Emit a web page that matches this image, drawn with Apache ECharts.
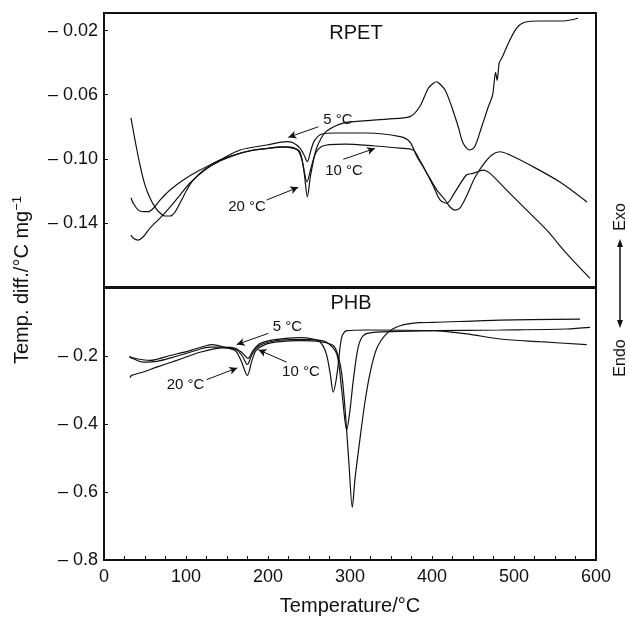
<!DOCTYPE html>
<html>
<head>
<meta charset="utf-8">
<script src="https://cdn.jsdelivr.net/npm/echarts@6/dist/echarts.min.js"></script>
<style>
  html, body { margin: 0; padding: 0; background: #fff; }
  #chart { width: 629px; height: 617px; }
</style>
</head>
<body>
<div id="chart"></div>
<script>
// RPET curves, [temperature, temp. diff.]
const rpet5 = [
  [32.9, -0.1245], [35.8, -0.1278], [41.8, -0.132], [48, -0.133], [54, -0.133], [60, -0.131],
  [68.3, -0.1258], [80.5, -0.1195], [96.7, -0.1132], [117, -0.107], [141.5, -0.1008], [166, -0.0945],
  [198.4, -0.0914], [223, -0.0893], [230.5, -0.09], [239, -0.0933], [244, -0.0976], [248, -0.1018],
  [252.4, -0.0945], [257, -0.0883], [266, -0.0845], [282, -0.0839], [320.7, -0.0839], [361, -0.0862],
  [373, -0.0895], [381.7, -0.0987], [391.5, -0.107], [401, -0.1164], [410, -0.1258], [418, -0.1277],
  [427, -0.1216], [442, -0.1101], [450, -0.1091], [462.6, -0.107], [470.7, -0.1091], [491, -0.1195],
  [515.5, -0.132], [540, -0.1445], [564, -0.159], [592.7, -0.1746]
]
const rpet10 = [
  [32.9, -0.1476], [35.4, -0.1494], [41.5, -0.1507], [47.6, -0.1488], [56.1, -0.1432], [68.3, -0.137],
  [80.5, -0.1301], [92.7, -0.1226], [104.9, -0.1151], [123, -0.107], [141.5, -0.1014], [160, -0.0975],
  [178, -0.0951], [200, -0.0935], [214.6, -0.0926], [230.5, -0.0933], [237, -0.095], [241.5, -0.1008],
  [247.6, -0.1143], [252.4, -0.1058], [258, -0.0965], [265, -0.0925], [275, -0.0912], [294, -0.0908],
  [330.5, -0.092], [361, -0.0933], [377, -0.0945], [385, -0.1008], [395, -0.1101], [406, -0.1195],
  [416, -0.1257], [422, -0.1301], [428, -0.132], [434, -0.1308], [442.7, -0.1226], [452, -0.112],
  [462, -0.1039], [473, -0.0976], [483, -0.0956], [495, -0.0976], [519.5, -0.1039], [556, -0.1145],
  [589, -0.127]
]
const rpet20 = [
  [32.9, -0.0745], [37.8, -0.0883], [43.9, -0.1039], [50, -0.1164], [56.1, -0.1245], [62.2, -0.1301],
  [68.3, -0.1338], [74.4, -0.1357], [80.5, -0.1357], [86.6, -0.1332], [92.7, -0.1276], [101, -0.1195],
  [109, -0.1132], [125, -0.1055], [141.5, -0.1008], [160, -0.0975], [182, -0.0945], [205, -0.0932],
  [223, -0.0925], [231, -0.093], [239, -0.0958], [244, -0.1083], [248, -0.1237], [252, -0.1101],
  [258.5, -0.0945], [265, -0.087], [272, -0.0825], [291.5, -0.0777], [320, -0.0762], [345, -0.0752],
  [373, -0.0737], [385, -0.0675], [395.5, -0.056], [401.6, -0.0529], [405.7, -0.0519], [409, -0.053],
  [416, -0.0571], [424, -0.0675], [432, -0.08], [438, -0.0903], [446, -0.0945], [452, -0.0925],
  [460.6, -0.08], [468.7, -0.0675], [474, -0.06], [477.5, -0.046], [479.5, -0.051], [482, -0.04],
  [485, -0.0373], [493, -0.028], [503, -0.0186], [513, -0.0148], [531.7, -0.014], [560, -0.014],
  [578, -0.0123]
]

// PHB curves
const phb5 = [
  [30.9, -0.2035], [35.7, -0.208], [47.9, -0.218], [64.3, -0.216], [84.5, -0.2035], [104.9, -0.189],
  [129.3, -0.174], [145.5, -0.174], [161, -0.178], [168.3, -0.19], [175.6, -0.207], [181.7, -0.184],
  [190.2, -0.1635], [208.5, -0.152], [239, -0.146], [254.9, -0.15], [263.4, -0.158], [270.7, -0.19],
  [275.6, -0.248], [279.6, -0.306], [283, -0.272], [285.7, -0.223], [289.9, -0.145], [296, -0.1255],
  [320.4, -0.1235], [401.6, -0.1255], [442.3, -0.135], [483, -0.15], [531.7, -0.158], [588.7, -0.1664]
]
const phb10 = [
  [30.9, -0.2015], [39.9, -0.208], [56.1, -0.213], [80.5, -0.1985], [104.9, -0.184], [125.2, -0.169],
  [131.7, -0.1664], [149.6, -0.176], [161, -0.181], [168.3, -0.1985], [174.8, -0.225], [180.5, -0.1956],
  [187.8, -0.172], [202.4, -0.158], [226.8, -0.152], [251.2, -0.152], [271.6, -0.16], [283.8, -0.1936],
  [289.9, -0.3], [296, -0.4175], [300, -0.359], [304, -0.2715], [310, -0.174], [316.2, -0.14],
  [328.4, -0.1305], [401.6, -0.1255], [483, -0.1235], [564.3, -0.1206], [592.7, -0.116]
]
const phb20 = [
  [31.7, -0.2636], [33.8, -0.257], [47.9, -0.247], [64.3, -0.2327], [88.7, -0.213], [117, -0.189],
  [145.5, -0.176], [159.8, -0.184], [167, -0.213], [174.8, -0.257], [180.5, -0.213], [185.4, -0.184],
  [196.3, -0.1664], [214.6, -0.158], [239, -0.155], [263.4, -0.158], [279.6, -0.169], [285.4, -0.1985],
  [290.2, -0.257], [295, -0.388], [298.8, -0.52], [302.8, -0.645], [306, -0.5635], [312, -0.447],
  [318, -0.339], [324.4, -0.251], [332.6, -0.178], [344.8, -0.134], [361, -0.111], [385, -0.102],
  [401.6, -0.1013], [483, -0.0943], [580.5, -0.0914]
]

// tick labels
const xTicks = [0, 100, 200, 300, 400, 500, 600]
const rpetTicks = [-0.02, -0.06, -0.10, -0.14]
const phbTicks = [-0.2, -0.4, -0.6, -0.8]

// annotations: [label, textPos, arrowFrom, arrowTo]
const rpetNotes = [
  ['5 \u00b0C', [285.4, -0.0758], [261.3, -0.080], [224.8, -0.0866]],
  ['10 \u00b0C', [292.7, -0.1076], [291.8, -0.1003], [330.5, -0.0935]],
  ['20 \u00b0C', [174.4, -0.1298], [198.4, -0.1257], [236.9, -0.1178]],
  ['RPET', [307.3, -0.0215]]
]
const phbNotes = [
  ['5 \u00b0C', [223.8, -0.1139], [200.4, -0.1334], [161.8, -0.1664]],
  ['10 \u00b0C', [240.2, -0.2467], [222.8, -0.2181], [188.2, -0.1819]],
  ['20 \u00b0C', [99.4, -0.2861], [125.2, -0.2695], [162.6, -0.235]],
  ['PHB', [301.2, -0.0453]]
]

const font = 'Liberation Sans, Arial, Helvetica, sans-serif'
const chart = echarts.init(document.getElementById('chart'), null, { renderer: 'canvas' })

const pick = (list, digits) => v => {
  const t = list.find(t => Math.abs(t - v) < 1e-6)
  return t === undefined ? '' : '\u2013 ' + Math.abs(t).toFixed(digits)
}

function curve(data, xi) {
  return {
    type: 'line',
    xAxisIndex: xi,
    yAxisIndex: xi,
    data: data,
    showSymbol: false,
    smooth: 0.3,
    animation: false,
    silent: true,
    lineStyle: { color: '#111', width: 1.2 },
  }
}

function notes(list, xi) {
  return {
    type: 'line',
    xAxisIndex: xi,
    yAxisIndex: xi,
    data: [],
    animation: false,
    silent: true,
    markLine: {
      silent: true,
      animation: false,
      symbol: ['none', 'arrow'],
      symbolSize: [6, 8],
      label: { show: false },
      lineStyle: { color: '#111', width: 1, type: 'solid' },
      data: list.filter(n => n[2]).map(n => [{ coord: n[2] }, { coord: n[3] }]),
    },
    markPoint: {
      silent: true,
      animation: false,
      symbol: 'rect',
      symbolSize: 1,
      itemStyle: { color: 'rgba(0,0,0,0)' },
      label: {
        show: true,
        position: 'inside',
        formatter: '{b}',
        color: '#111',
        fontFamily: font,
      },
      data: list.map(n => ({
        name: n[0],
        coord: n[1],
        label: { fontSize: n[2] ? 15 : 20 },
      })),
    },
  }
}

const axisText = { color: '#111', fontFamily: font, fontSize: 18 }
const tick = { show: true, inside: true, length: 4, lineStyle: { color: '#111', width: 1 } }
const noLine = { show: false, onZero: false }

chart.setOption({
  animation: false,
  backgroundColor: '#fff',
  grid: [
    { left: 104, top: 13, width: 492, height: 274, show: true, borderColor: '#111', borderWidth: 2 },
    { left: 104, top: 288, width: 492, height: 273, show: true, borderColor: '#111', borderWidth: 2 },
  ],
  xAxis: [
    {
      type: 'value', gridIndex: 0, min: 0, max: 600,
      axisLine: noLine, axisTick: { show: false }, minorTick: { show: false },
      axisLabel: { show: false }, splitLine: { show: false },
    },
    {
      type: 'value', gridIndex: 1, min: 0, max: 600, interval: 25,
      axisLine: noLine,
      axisTick: tick,
      minorTick: { show: false },
      splitLine: { show: false },
      axisLabel: Object.assign({ margin: 8, formatter: v => xTicks.includes(v) ? String(v) : '' }, axisText),
      name: 'Temperature/\u00b0C',
      nameLocation: 'middle',
      nameGap: 36,
      nameTextStyle: { color: '#111', fontFamily: font, fontSize: 20 },
    },
  ],
  yAxis: [
    {
      type: 'value', gridIndex: 0, min: -0.18, max: -0.009, interval: 0.04,
      axisLine: noLine,
      axisTick: tick,
      splitLine: { show: false },
      axisLabel: Object.assign({ margin: 6, formatter: pick(rpetTicks, 2) }, axisText),
    },
    {
      type: 'value', gridIndex: 1, min: -0.8, max: 0, interval: 0.2,
      axisLine: noLine,
      axisTick: tick,
      splitLine: { show: false },
      axisLabel: Object.assign({ margin: 6, formatter: pick(phbTicks, 1) }, axisText),
    },
  ],
  graphic: [
    {
      type: 'text',
      rotation: Math.PI / 2,
      x: 22, y: 280,
      style: {
        text: 'Temp. diff./\u00b0C mg{sup|\u22121}',
        fill: '#111',
        font: '20px ' + font,
        align: 'center',
        verticalAlign: 'middle',
        rich: { sup: { fontSize: 13, verticalAlign: 'top', padding: [0, 0, 10, 0], fill: '#111' } },
      },
    },
    {
      type: 'text',
      rotation: Math.PI / 2,
      x: 621, y: 217,
      style: { text: 'Exo', fill: '#111', font: '16px ' + font, align: 'center', verticalAlign: 'middle' },
    },
    {
      type: 'text',
      rotation: Math.PI / 2,
      x: 621, y: 358,
      style: { text: 'Endo', fill: '#111', font: '16px ' + font, align: 'center', verticalAlign: 'middle' },
    },
    {
      type: 'line',
      shape: { x1: 620, y1: 245, x2: 620, y2: 322 },
      style: { stroke: '#111', lineWidth: 1.5 },
    },
    {
      type: 'polygon',
      shape: { points: [[620, 239], [617, 247], [623, 247]] },
      style: { fill: '#111' },
    },
    {
      type: 'polygon',
      shape: { points: [[620, 328], [617, 320], [623, 320]] },
      style: { fill: '#111' },
    },
  ],
  series: [
    curve(rpet5, 0), curve(rpet10, 0), curve(rpet20, 0),
    curve(phb5, 1), curve(phb10, 1), curve(phb20, 1),
    notes(rpetNotes, 0), notes(phbNotes, 1),
  ],
})
</script>
</body>
</html>
